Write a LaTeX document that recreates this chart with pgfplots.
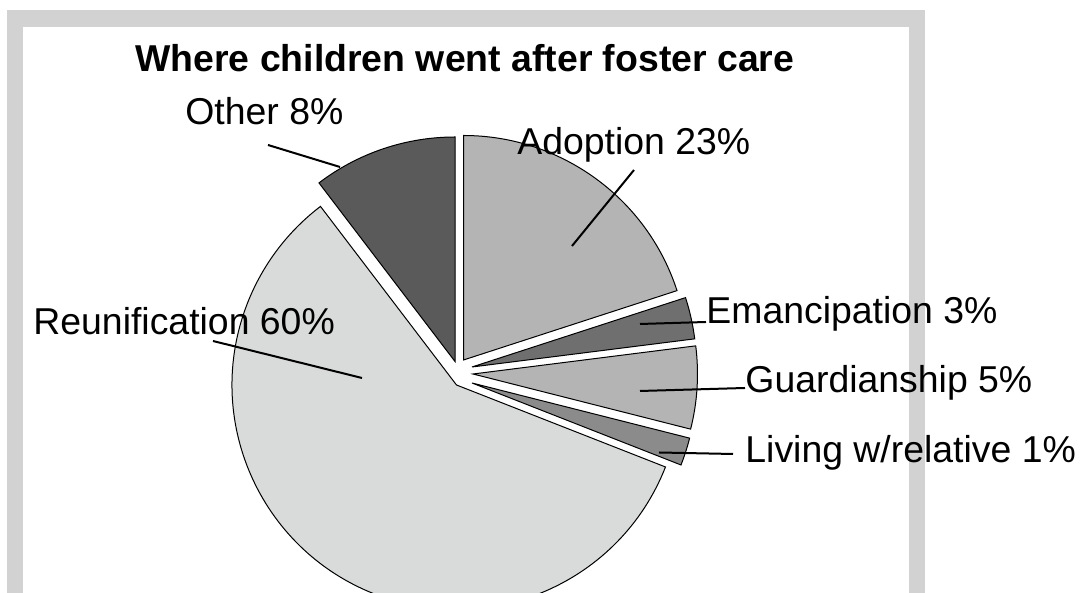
\documentclass[border=0pt]{standalone}
\usepackage{pgfplots}
\pgfplotsset{compat=1.18}
\usepackage{fontspec}
\setmainfont{Liberation Sans}
\definecolor{framegray}{HTML}{D2D2D2}
\definecolor{cReun}{HTML}{D9DADA}
\definecolor{cAdopt}{HTML}{B4B4B4}
\definecolor{cGuard}{HTML}{B4B4B4}
\definecolor{cEman}{HTML}{6F6F6F}
\definecolor{cLiving}{HTML}{8B8B8B}
\definecolor{cOther}{HTML}{5A5A5A}
\newcommand{\pieR}{112.25pt}
% apex x, apex y (axis units = px), cumulative start %, value %, colour
\newcommand{\pieslice}[5]{%
  \draw[line width=0.5pt, fill=#5] (axis cs:#1,#2) -- ++({90-3.6*(#3)}:\pieR)
    arc[start angle={90-3.6*(#3)}, end angle={90-3.6*((#3)+(#4))}, radius=\pieR] -- cycle;}
\newcommand{\lbl}[3]{\node[anchor=base west, inner sep=0pt, font=\fontsize{18.7}{22}\selectfont] at (axis cs:#1,#2) {#3};}
\newcommand{\leader}[4]{\draw[line width=1pt] (axis cs:#1,#2) -- (axis cs:#3,#4);}
\begin{document}
\begin{tikzpicture}
\path[use as bounding box] (0,0) rectangle (541.5pt,296.5pt);
\clip (0,0) rectangle (541.5pt,296.5pt);
\begin{axis}[
  x=0.5pt, y=0.5pt,
  xmin=0, xmax=1083, ymin=0, ymax=593,
  hide axis, clip=false,
  at={(0,0)}, anchor=origin,
]
% frame
\fill[framegray] (axis cs:7,-20) rectangle (axis cs:925,583);
\fill[white] (axis cs:23,-20) rectangle (axis cs:909,566);
% slices (geometry as drawn)
\pieslice{463.5}{233}{0}{20.0}{cAdopt}      % Adoption
\pieslice{472}{226}{20.0}{3.0}{cEman}       % Emancipation
\pieslice{473}{219}{23.0}{5.95}{cGuard}     % Guardianship
\pieslice{472}{210}{28.95}{2.0}{cLiving}    % Living w/relative
\pieslice{456.5}{208}{30.95}{58.69}{cReun}  % Reunification
\pieslice{455}{231.5}{89.64}{10.36}{cOther} % Other
% leader lines
\leader{268}{448}{340}{426}
\leader{572}{347}{634}{423}
\leader{640}{269}{706}{271}
\leader{640}{202}{745}{205}
\leader{659}{140.5}{733}{139}
\leader{213}{252}{362}{215}
% labels
\node[anchor=base west, inner sep=0pt, font=\fontsize{18.7}{22}\selectfont\bfseries] at (axis cs:135,521) {Where children went after foster care};
\lbl{185}{468}{Other 8\%}
\lbl{517}{438}{Adoption 23\%}
\lbl{706}{269}{Emancipation 3\%}
\lbl{745}{200.5}{Guardianship 5\%}
\lbl{745}{130.3}{Living w/relative 1\%}
\lbl{33}{258}{Reunification 60\%}
\end{axis}
\end{tikzpicture}
\end{document}
